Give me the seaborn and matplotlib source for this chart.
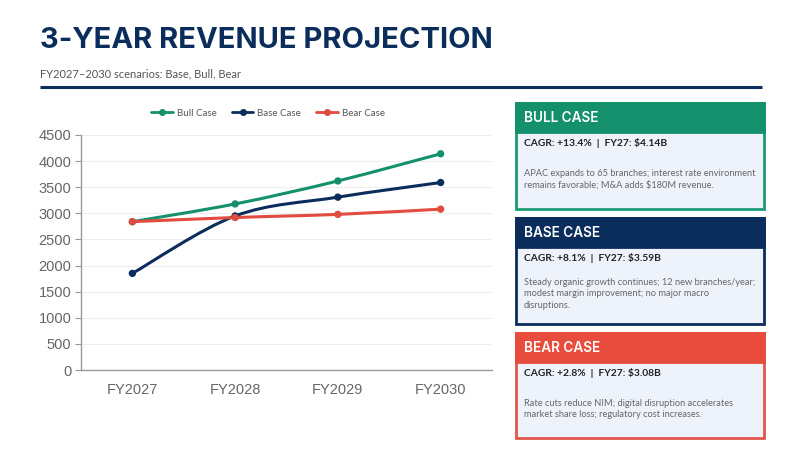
import numpy as np
import pandas as pd
import matplotlib
matplotlib.use("Agg")
import matplotlib.pyplot as plt
from matplotlib.path import Path as MplPath
from matplotlib.patches import PathPatch, Rectangle
from matplotlib.lines import Line2D
import seaborn as sns

# data
years = ["FY2027", "FY2028", "FY2029", "FY2030"]
bull = [2840, 3180, 3620, 4140]
base = [1850, 2950, 3310, 3590]
bear = [2840, 2920, 2980, 3080]
scenarios = ["Bull Case", "Base Case", "Bear Case"]
colors = {"Bull Case": "#14906c", "Base Case": "#0b2d5c", "Bear Case": "#e24b3f"}
y_ticks = [0, 500, 1000, 1500, 2000, 2500, 3000, 3500, 4000, 4500]

card_titles = ["BULL CASE", "BASE CASE", "BEAR CASE"]
card_stats = ["CAGR: +13.4%  |  FY27: $4.14B",
              "CAGR: +8.1%  |  FY27: $3.59B",
              "CAGR: +2.8%  |  FY27: $3.08B"]
card_notes = ["APAC expands to 65 branches; interest rate environment\nremains favorable; M&A adds $180M revenue.",
              "Steady organic growth continues; 12 new branches/year;\nmodest margin improvement; no major macro\ndisruptions.",
              "Rate cuts reduce NIM; digital disruption accelerates\nmarket share loss; regulatory cost increases."]
card_colors = ["#14906c", "#0b2d5c", "#e84c3d"]
card_edges = ["#1c9a76", "#0b2d5c", "#e2564b"]

df = pd.DataFrame({
    "year": years * 3,
    "revenue": bull + base + bear,
    "scenario": np.repeat(scenarios, len(years)),
})

sns.set_style("white")
TITLE_FONT = ["Inter", "DejaVu Sans"]
BODY_FONT = ["Lato", "DejaVu Sans"]
AXIS_FONT = ["Liberation Sans", "DejaVu Sans"]

fig = plt.figure(figsize=(8, 4.5), dpi=100)
fig.patch.set_facecolor("white")

# overlay in pixel coordinates for the slide furniture
ov = fig.add_axes([0, 0, 1, 1])
ov.set_xlim(0, 800)
ov.set_ylim(450, 0)
ov.axis("off")

ov.text(40, 41, "3-YEAR REVENUE PROJECTION", fontsize=21, fontweight="bold",
        color="#0b2d5c", va="center", ha="left", family=TITLE_FONT)
ov.text(40, 74, "FY2027\u20132030 scenarios: Base, Bull, Bear", fontsize=8,
        color="#555555", va="center", ha="left", family=BODY_FONT)
ov.plot([40, 762], [87, 87], color="#0b2d5c", lw=2.2, solid_capstyle="butt")

# scenario cards
card_tops = [103, 218, 333]
card_bottoms = [209, 324, 438]
for i in range(3):
    top, bot = card_tops[i], card_bottoms[i]
    ov.add_patch(Rectangle((516, top), 248, bot - top, facecolor="#eef3fb",
                           edgecolor=card_edges[i], lw=2))
    ov.add_patch(Rectangle((516, top), 248, 29, facecolor=card_colors[i],
                           edgecolor=card_colors[i], lw=2))
    ov.text(524, top + 15, card_titles[i], fontsize=9.8, fontweight="semibold",
            color="white", va="center", ha="left", family=TITLE_FONT)
    ov.text(524, top + 40, card_stats[i], fontsize=7.4, fontweight="bold",
            color="#222222", va="center", ha="left", family=BODY_FONT)
    ov.text(524, top + 76, card_notes[i], fontsize=6.7, color="#666666",
            va="center", ha="left", family=BODY_FONT, linespacing=1.35)

# chart
ax = fig.add_axes([81 / 800, 1 - 370 / 450, 411 / 800, 235 / 450])
sns.scatterplot(data=df, x="year", y="revenue", hue="scenario", palette=colors,
                s=28, edgecolor="none", legend=False, ax=ax, zorder=4)

# smoothed lines (Catmull-Rom as Bezier segments, like spreadsheet smoothing)
xs = np.arange(len(years), dtype=float)
for name, vals in zip(scenarios, [bull, base, bear]):
    pts = np.column_stack([xs, np.asarray(vals, dtype=float)])
    ext = np.vstack([pts[0], pts, pts[-1]])
    verts = [tuple(pts[0])]
    codes = [MplPath.MOVETO]
    for k in range(len(pts) - 1):
        p0, p1, p2, p3 = ext[k], ext[k + 1], ext[k + 2], ext[k + 3]
        c1 = p1 + (p2 - p0) / 6
        c2 = p2 - (p3 - p1) / 6
        verts += [tuple(c1), tuple(c2), tuple(p2)]
        codes += [MplPath.CURVE4] * 3
    ax.add_patch(PathPatch(MplPath(verts, codes), facecolor="none",
                           edgecolor=colors[name], lw=2.2, zorder=3))

ax.set_xlim(-0.5, 3.5)
ax.set_ylim(0, 4500)
ax.set_yticks(y_ticks)
ax.set_xticks(xs)
ax.set_xticks(np.arange(-0.5, 3.6, 1), minor=True)
ax.tick_params(axis="x", which="major", length=0, pad=9, labelsize=10.5,
               labelcolor="#666666")
ax.tick_params(axis="x", which="minor", length=4, color="#999999", direction="out")
ax.tick_params(axis="y", length=4, color="#999999", labelsize=10.5,
               labelcolor="#666666", pad=3, left=True)
for lab in ax.get_xticklabels() + ax.get_yticklabels():
    lab.set_family(AXIS_FONT)
ax.set_xlabel("")
ax.set_ylabel("")
ax.grid(axis="y", color="#eeeeee", lw=0.8)
ax.set_axisbelow(True)
for side in ["top", "right"]:
    ax.spines[side].set_visible(False)
for side in ["left", "bottom"]:
    ax.spines[side].set_color("#999999")
    ax.spines[side].set_linewidth(1)

handles = [Line2D([0], [0], color=colors[n], lw=2, marker="o", markersize=4)
           for n in scenarios]
fig.legend(handles, scenarios, loc="center", bbox_to_anchor=(268 / 800, 1 - 113 / 450),
           ncol=3, frameon=False, handlelength=2.2, columnspacing=1.6,
           handletextpad=0.4, labelcolor="#555555", prop={"family": BODY_FONT, "size": 7})

fig.savefig("out.png", dpi=100)
